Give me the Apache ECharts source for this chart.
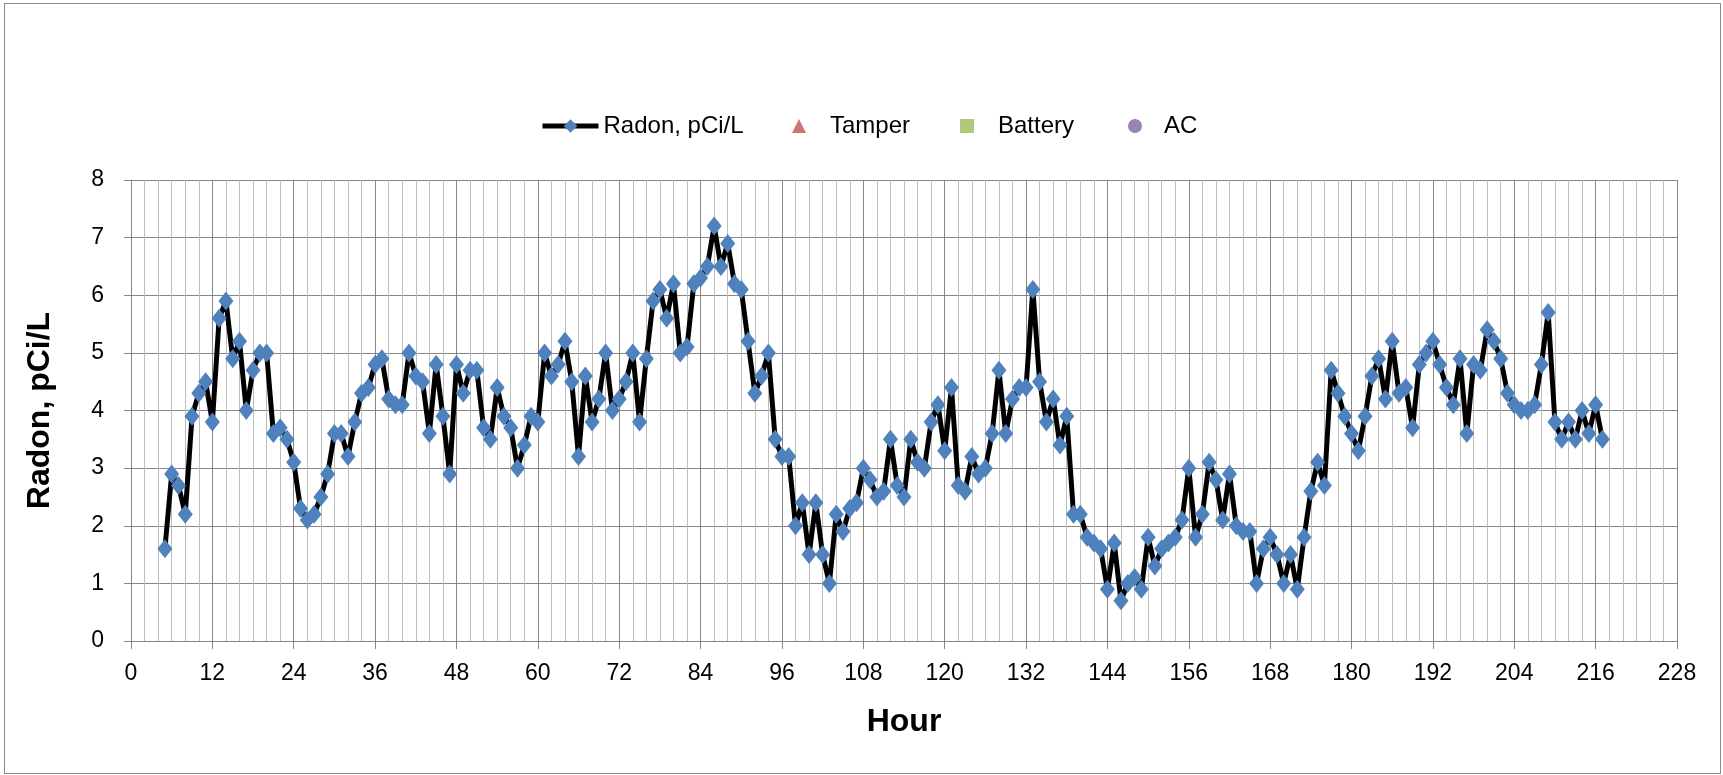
<!DOCTYPE html>
<html>
<head>
<meta charset="utf-8">
<title>Radon</title>
<script src="https://cdn.jsdelivr.net/npm/echarts@6/dist/echarts.min.js"></script>
<style>
    html, body { margin: 0; padding: 0; background: #fff; }
    #wrap { position: relative; width: 1723px; height: 775px; overflow: hidden; }
    #frame { position: absolute; left: 4px; top: 3px; width: 1715px; height: 769px; border: 1px solid #8c8c8c; }
    #chart { position: absolute; left: 0; top: 0; width: 1723px; height: 775px; }
</style>
</head>
<body>
<div id="wrap">
    <div id="frame"></div>
    <div id="chart"></div>
</div>
<script>
(function(){
    var chartDom = document.getElementById("chart");
    var myChart = echarts.init(chartDom);

    /*********** data ***********/
    var startHour = 5;
    var radon = [
        1.6, 2.9, 2.7, 2.2, 3.9, 4.3, 4.5, 3.8, 5.6, 5.9,   // 5-14
        4.9, 5.2, 4.0, 4.7, 5.0, 5.0, 3.6, 3.7, 3.5, 3.1,   // 15-24
        2.3, 2.1, 2.2, 2.5, 2.9, 3.6, 3.6, 3.2, 3.8, 4.3,   // 25-34
        4.4, 4.8, 4.9, 4.2, 4.1, 4.1, 5.0, 4.6, 4.5, 3.6,   // 35-44
        4.8, 3.9, 2.9, 4.8, 4.3, 4.7, 4.7, 3.7, 3.5, 4.4,   // 45-54
        3.9, 3.7, 3.0, 3.4, 3.9, 3.8, 5.0, 4.6, 4.8, 5.2,   // 55-64
        4.5, 3.2, 4.6, 3.8, 4.2, 5.0, 4.0, 4.2, 4.5, 5.0,   // 65-74
        3.8, 4.9, 5.9, 6.1, 5.6, 6.2, 5.0, 5.1, 6.2, 6.3,   // 75-84
        6.5, 7.2, 6.5, 6.9, 6.2, 6.1, 5.2, 4.3, 4.6, 5.0,   // 85-94
        3.5, 3.2, 3.2, 2.0, 2.4, 1.5, 2.4, 1.5, 1.0, 2.2,   // 95-104
        1.9, 2.3, 2.4, 3.0, 2.8, 2.5, 2.6, 3.5, 2.7, 2.5,   // 105-114
        3.5, 3.1, 3.0, 3.8, 4.1, 3.3, 4.4, 2.7, 2.6, 3.2,   // 115-124
        2.9, 3.0, 3.6, 4.7, 3.6, 4.2, 4.4, 4.4, 6.1, 4.5,   // 125-134
        3.8, 4.2, 3.4, 3.9, 2.2, 2.2, 1.8, 1.7, 1.6, 0.9,   // 135-144
        1.7, 0.7, 1.0, 1.1, 0.9, 1.8, 1.3, 1.6, 1.7, 1.8,   // 145-154
        2.1, 3.0, 1.8, 2.2, 3.1, 2.8, 2.1, 2.9, 2.0, 1.9,   // 155-164
        1.9, 1.0, 1.6, 1.8, 1.5, 1.0, 1.5, 0.9, 1.8, 2.6,   // 165-174
        3.1, 2.7, 4.7, 4.3, 3.9, 3.6, 3.3, 3.9, 4.6, 4.9,   // 175-184
        4.2, 5.2, 4.3, 4.4, 3.7, 4.8, 5.0, 5.2, 4.8, 4.4,   // 185-194
        4.1, 4.9, 3.6, 4.8, 4.7, 5.4, 5.2, 4.9, 4.3, 4.1,   // 195-204
        4.0, 4.0, 4.1, 4.8, 5.7, 3.8, 3.5, 3.8, 3.5, 4.0,   // 205-214
        3.6, 4.1, 3.5                                       // 215-217
    ];
    var tamper = [];
    var battery = [];
    var ac = [];

    var radonData = radon.map(function (v, i) {
        return [startHour + i, v];
    });

    var fontName = "'Liberation Sans', Arial, sans-serif";

    // one legend per entry so every item sits where it does in the picture
    function oneLegend(name, left, width, height, textGap) {
        return {
            data: [name],
            left: left,
            top: 109,
            itemWidth: width,
            itemHeight: height,
            selectedMode: false,
            lineStyle: { width: 5 },
            textStyle: {
                fontFamily: fontName, fontSize: 24, color: '#000',
                padding: [0, 0, 0, textGap]
            }
        };
    }

    myChart.setOption({
        animation: false,
        backgroundColor: 'transparent',
        legend: [
            oneLegend('Radon, pCi/L', 535, 56, 17, 0),
            oneLegend('Tamper', 787, 14, 14, 19),
            oneLegend('Battery', 955, 14, 14, 19),
            oneLegend('AC', 1123, 14, 14, 17)
        ],
        grid: {
            left: 131,
            right: 46,
            top: 180,
            bottom: 134,
            containLabel: false
        },
        xAxis: {
            type: 'value',
            min: 0,
            max: 228,
            interval: 12,
            name: 'Hour',
            nameLocation: 'middle',
            nameGap: 65,
            nameTextStyle: { fontFamily: fontName, fontSize: 32, fontWeight: 'bold', color: '#000' },
            axisLine: { show: true, onZero: false, lineStyle: { color: '#868686', width: 1 } },
            axisTick: { show: true, inside: false, length: 8, lineStyle: { color: '#868686' } },
            axisLabel: { margin: 21, fontFamily: fontName, fontSize: 23, color: '#000' },
            splitLine: { show: true, lineStyle: { color: '#868686', width: 1 } },
            minorTick: { show: false, splitNumber: 6 },
            minorSplitLine: { show: true, lineStyle: { color: '#bdbdbd', width: 1 } }
        },
        yAxis: {
            type: 'value',
            min: 0,
            max: 8,
            interval: 1,
            name: 'Radon, pCi/L',
            nameLocation: 'middle',
            nameGap: 75,
            nameTextStyle: { fontFamily: fontName, fontSize: 32, fontWeight: 'bold', color: '#000' },
            axisLine: { show: true, lineStyle: { color: '#868686', width: 1 } },
            axisTick: { show: true, inside: false, length: 7, lineStyle: { color: '#868686' } },
            axisLabel: { margin: 27, fontFamily: fontName, fontSize: 23, color: '#000' },
            splitLine: { show: true, lineStyle: { color: '#868686', width: 1 } }
        },
        series: [
            {
                name: 'Radon, pCi/L',
                type: 'line',
                data: radonData,
                symbol: 'diamond',
                symbolSize: [15, 19],
                showAllSymbol: true,
                lineStyle: { color: '#000', width: 5 },
                itemStyle: { color: '#4f81bd', borderWidth: 0 },
                z: 3
            },
            {
                name: 'Tamper',
                type: 'scatter',
                data: tamper,
                symbol: 'triangle',
                symbolSize: 14,
                itemStyle: { color: '#c0504d' }
            },
            {
                name: 'Battery',
                type: 'scatter',
                data: battery,
                symbol: 'rect',
                symbolSize: 13,
                itemStyle: { color: '#9bbb59' }
            },
            {
                name: 'AC',
                type: 'scatter',
                data: ac,
                symbol: 'circle',
                symbolSize: 13,
                itemStyle: { color: '#8064a2' }
            }
        ]
    });
})();
</script>
</body>
</html>
